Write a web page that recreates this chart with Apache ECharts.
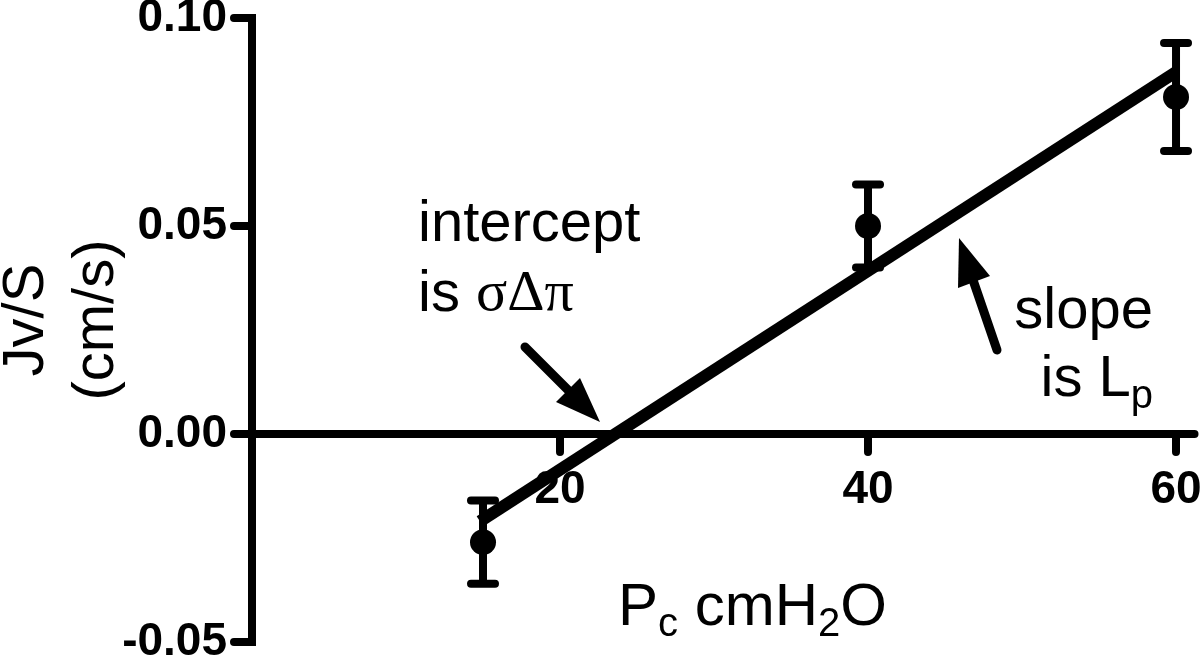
<!DOCTYPE html>
<html>
<head>
<meta charset="utf-8">
<script src="https://cdn.jsdelivr.net/npm/echarts@6/dist/echarts.min.js"></script>
<style>
html,body{margin:0;padding:0;background:#fff;}
#chart{width:1200px;height:661px;}
</style>
</head>
<body>
<div id="chart"></div>
<script>
// ---- data ----
const pcValues = [15, 40, 60];            // Pc (cmH2O)
const jvMeans = [-0.026, 0.050, 0.081];   // Jv/S (cm/s)
const jvErrors = [0.010, 0.010, 0.013];   // error bar half-lengths
const fitX = [14.8, 60];                  // regression line x ends
const fitY = [-0.021, 0.087];             // regression line y ends
const xTickValues = [20, 40, 60];
const yTickValues = [-0.05, 0.00, 0.05, 0.10];

const FONT = '"Liberation Sans", Arial, Helvetica, sans-serif';
const SERIF = '"Liberation Serif", "Times New Roman", serif';

const Y_MIN = -0.05, Y_MAX = 0.10;
const GRID = {left: 252, right: 5.5, top: 18, bottom: 19};
const gridHeight = 661 - GRID.top - GRID.bottom;
// move the x axis (line, ticks, labels) up to y = 0
const xAxisOffset = -gridHeight * (0 - Y_MIN) / (Y_MAX - Y_MIN);

const pointData = pcValues.map((x, i) => [x, jvMeans[i]]);
const errData = pcValues.map((x, i) => [x, jvMeans[i] - jvErrors[i], jvMeans[i] + jvErrors[i]]);
const fitData = fitX.map((x, i) => [x, fitY[i]]);

const chart = echarts.init(document.getElementById('chart'), null, {renderer: 'canvas'});

const mainTok = {fontFamily: FONT, fontSize: 60, lineHeight: 70, color: '#000'};
const subTok = {fontFamily: FONT, fontSize: 40, lineHeight: 30, padding: [34, 0, 0, 0], color: '#000'};

const option = {
  backgroundColor: '#fff',
  animation: false,
  grid: Object.assign({containLabel: false, outerBoundsMode: 'none'}, GRID),
  xAxis: {
    type: 'value', min: 0, max: 61.2,
    offset: xAxisOffset,
    axisLine: {onZero: false, lineStyle: {color: '#000', width: 8}},
    axisTick: {show: true, inside: false, length: 18, customValues: xTickValues, lineStyle: {color: '#000', width: 8, cap: 'round'}},
    axisLabel: {customValues: xTickValues, margin: 33, color: '#000', fontFamily: FONT, fontWeight: 'bold', fontSize: 46},
    splitLine: {show: false}
  },
  yAxis: {
    type: 'value', min: Y_MIN, max: Y_MAX, interval: 0.05,
    axisLine: {show: true, onZero: false, lineStyle: {color: '#000', width: 8, cap: 'square'}},
    axisTick: {show: true, inside: false, length: 18, customValues: yTickValues, lineStyle: {color: '#000', width: 8, cap: 'round'}},
    axisLabel: {customValues: yTickValues, margin: 25, color: '#000', fontFamily: FONT, fontWeight: 'bold', fontSize: 46,
      formatter: v => v.toFixed(2)},
    splitLine: {show: false}
  },
  series: [
    {
      type: 'custom',
      data: errData,
      z: 3,
      renderItem: function (params, api) {
        const x = api.value(0);
        const lo = api.coord([x, api.value(1)]);
        const hi = api.coord([x, api.value(2)]);
        const half = 12;
        const st = {stroke: '#000', lineWidth: 8, lineCap: 'round'};
        return {
          type: 'group',
          children: [
            {type: 'line', shape: {x1: lo[0], y1: lo[1], x2: hi[0], y2: hi[1]}, style: {stroke: '#000', lineWidth: 8}},
            {type: 'line', shape: {x1: hi[0] - half, y1: hi[1], x2: hi[0] + half, y2: hi[1]}, style: st},
            {type: 'line', shape: {x1: lo[0] - half, y1: lo[1], x2: lo[0] + half, y2: lo[1]}, style: st}
          ]
        };
      }
    },
    {
      type: 'line',
      data: fitData,
      z: 4,
      symbol: 'none',
      lineStyle: {color: '#000', width: 12}
    },
    {
      type: 'scatter',
      data: pointData,
      z: 5,
      symbol: 'circle',
      symbolSize: 26,
      itemStyle: {color: '#000', opacity: 1}
    }
  ],
  graphic: [
    // y axis title
    {
      type: 'text', x: 62, y: 320, rotation: Math.PI / 2,
      style: {text: 'Jv/S\n(cm/s)', fontFamily: FONT, fontSize: 58, lineHeight: 70, fill: '#000', align: 'center', verticalAlign: 'middle'}
    },
    // x axis title
    {
      type: 'text', x: 618, y: 573,
      style: {
        text: '{m|P}{s|c}{m| cmH}{s|2}{m|O}',
        align: 'left', verticalAlign: 'top',
        rich: {m: mainTok, s: subTok}
      }
    },
    // intercept annotation
    {
      type: 'text', x: 418, y: 190,
      style: {
        text: '{m|intercept}\n{m|is }{g|σΔπ}',
        align: 'left', verticalAlign: 'top',
        rich: {
          m: {fontFamily: FONT, fontSize: 58, lineHeight: 70, color: '#000'},
          g: {fontFamily: SERIF, fontSize: 58, lineHeight: 70, color: '#000'}
        }
      }
    },
    // slope annotation
    {
      type: 'text', x: 1153, y: 278,
      style: {
        text: '{m|slope}\n{m|is L}{s|p}',
        align: 'right', verticalAlign: 'top',
        rich: {
          m: {fontFamily: FONT, fontSize: 58, lineHeight: 68, color: '#000'},
          s: {fontFamily: FONT, fontSize: 40, lineHeight: 30, padding: [34, 0, 0, 0], color: '#000'}
        }
      }
    },
    // intercept arrow
    {
      type: 'group',
      children: [
        {type: 'line', shape: {x1: 525, y1: 347, x2: 570, y2: 392}, style: {stroke: '#000', lineWidth: 9, lineCap: 'round'}},
        {type: 'polygon', shape: {points: [[600, 422], [556, 402], [580, 378]]}, style: {fill: '#000'}}
      ]
    },
    // slope arrow
    {
      type: 'group',
      children: [
        {type: 'line', shape: {x1: 997, y1: 350, x2: 973, y2: 280}, style: {stroke: '#000', lineWidth: 9, lineCap: 'round'}},
        {type: 'polygon', shape: {points: [[959, 238], [990, 276], [958, 288]]}, style: {fill: '#000'}}
      ]
    }
  ]
};
chart.setOption(option);
</script>
</body>
</html>
